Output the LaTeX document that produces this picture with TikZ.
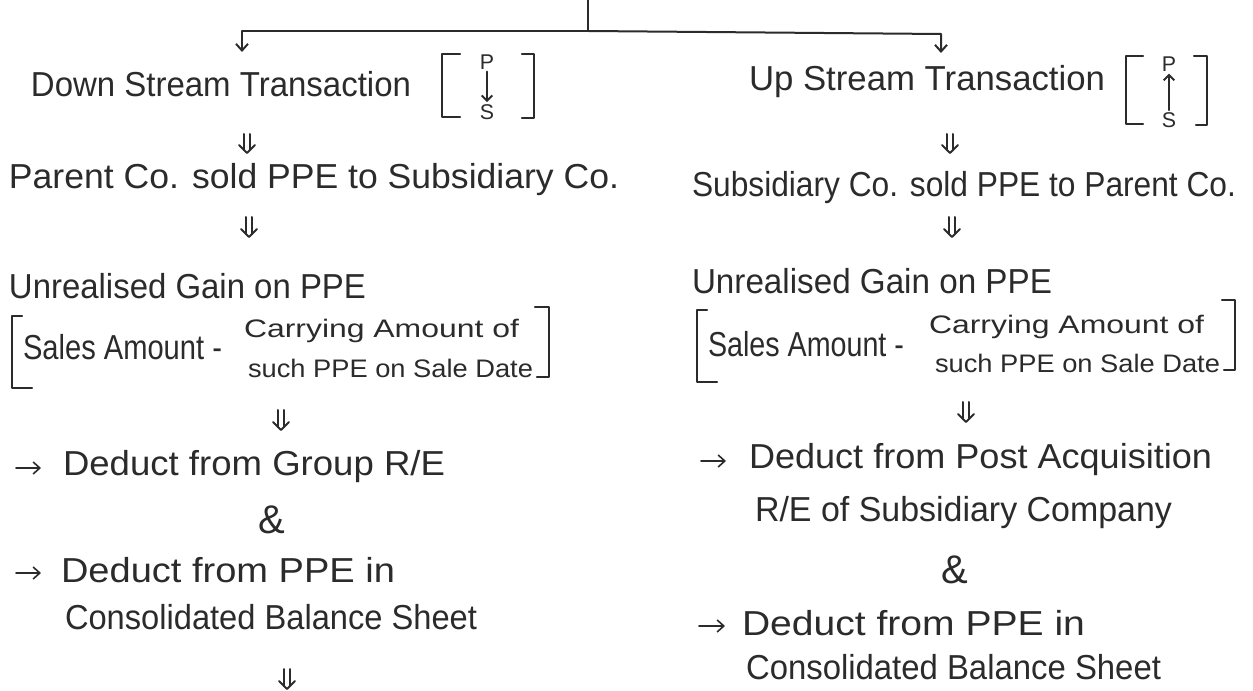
\documentclass[tikz,border=0pt]{standalone}
\usepackage{fontspec}
\setmainfont{Liberation Sans}
\usepackage{graphicx}
\usetikzlibrary{arrows.meta,calc}
\newdimen\px \px=0.75pt
\newcommand{\fitw}[2]{\resizebox{#1\px}{\height}{#2}}
\newcommand{\dnarrow}[2]{%
  \draw ($(#1)+(-3,0)$) -- ($(#2)+(-3,-3)$);
  \draw ($(#1)+(3,0)$) -- ($(#2)+(3,-3)$);
  \draw ($(#2)+(-8,-8)$) -- (#2) -- ($(#2)+(8,-8)$);}
\definecolor{ink}{HTML}{2B2B2B}
\begin{document}
\begin{tikzpicture}[x=0.75pt,y=-0.75pt,
  line width=1.5pt, draw=ink, line cap=round, line join=round,
  txt/.style={inner sep=0pt, anchor=west, text=ink, font=\fontsize{26}{30}\selectfont},
  midtxt/.style={txt, font=\fontsize{19}{22}\selectfont},
  smalltxt/.style={inner sep=0pt, text=ink, font=\fontsize{16}{18}\selectfont},
  arr/.style={-{Straight Barb[length=5pt,width=9pt]}},
  sarr/.style={-{Straight Barb[length=4pt,width=8pt]}, line width=1.4pt, shorten >=1pt, shorten <=1pt},
  brk/.style={line width=1.6pt}]
\useasboundingbox (0,0) rectangle (1253,691);

% top connector
\coordinate (top) at (588,0);
\coordinate (j) at (588,31);
\coordinate (cl) at (242,31);
\coordinate (cr) at (941,34);
\coordinate (al) at (242,52);
\coordinate (ar) at (941,53);
\draw (top) -- (j);
\draw[arr] (j) -- (cl) -- (al);
\draw[arr] (j) -- (cr) -- (ar);

% ---------------- left column ----------------
\node[txt] (ds) at (30,84) {\fitw{380}{Down Stream Transaction}};
\node[smalltxt] (dP) at (487,62) {P};
\node[smalltxt] (dS) at (487,112) {S};
\draw[sarr] (dP) -- (dS);
\draw[brk] (460,54) -- (442,54) -- (442,117) -- (460,117);
\draw[brk] (522,54) -- (534,54) -- (534,118) -- (522,118);

\coordinate (l1a) at (247,134); \coordinate (l1b) at (247,153);
\dnarrow{l1a}{l1b}
\node[txt] (pc) at (8,180) {\fitw{610}{Parent Co. sold PPE to Subsidiary Co.}};
\coordinate (l2a) at (249,217); \coordinate (l2b) at (249,237);
\dnarrow{l2a}{l2b}

\node[txt] (ug) at (8,286) {\fitw{357}{Unrealised Gain on PPE}};
\draw[brk] (22,316) -- (12,316) -- (12,388) -- (32,388);
\node[txt] (sa) at (22,347) {\fitw{199}{Sales Amount -}};
\node[midtxt] (ca) at (243,331) {\fitw{275}{Carrying Amount of}};
\node[midtxt] (sp) at (247,368) {\fitw{285}{such PPE on Sale Date}};
\draw[brk] (535,307) -- (549,307) -- (549,377) -- (537,377);

\coordinate (l3a) at (281,410); \coordinate (l3b) at (281,430);
\dnarrow{l3a}{l3b}
\coordinate (lr1a) at (16,468); \coordinate (lr1b) at (41,468);
\draw[arr, line width=1.2pt] (lr1a) -- (lr1b);
\node[txt] (dg) at (62,467) {\fitw{382}{Deduct from Group R/E}};
\node[txt, anchor=center, font=\fontsize{30}{32}\selectfont] (amp) at (272,520) {\&};
\coordinate (lr2a) at (16,573); \coordinate (lr2b) at (41,573);
\draw[arr, line width=1.2pt] (lr2a) -- (lr2b);
\node[txt] (dp) at (60,570) {\fitw{334}{Deduct from PPE in}};
\node[txt] (cb) at (64,617) {\fitw{412}{Consolidated Balance Sheet}};
\coordinate (l4a) at (287,669); \coordinate (l4b) at (287,689);
\dnarrow{l4a}{l4b}

% ---------------- right column ----------------
\node[txt] (us) at (748,82) {\fitw{356}{Up Stream Transaction}};
\node[smalltxt] (uP) at (1169,64) {P};
\node[smalltxt] (uS) at (1169,120) {S};
\draw[sarr] (uS) -- (uP);
\draw[brk] (1143,56) -- (1126,56) -- (1126,124) -- (1143,124);
\draw[brk] (1194,56) -- (1207,56) -- (1207,125) -- (1196,125);

\coordinate (r1a) at (950,134); \coordinate (r1b) at (950,153);
\dnarrow{r1a}{r1b}
\node[txt] (sc) at (691,188) {\fitw{544}{Subsidiary Co. sold PPE to Parent Co.}};
\coordinate (r2a) at (952,217); \coordinate (r2b) at (952,237);
\dnarrow{r2a}{r2b}

\node[txt] (ug2) at (691,281) {\fitw{360}{Unrealised Gain on PPE}};
\draw[brk] (707,310) -- (697,310) -- (697,382) -- (717,382);
\node[txt] (sa2) at (707,344) {\fitw{196}{Sales Amount -}};
\node[midtxt] (ca2) at (928,327) {\fitw{275}{Carrying Amount of}};
\node[midtxt] (sp2) at (934,363) {\fitw{285}{such PPE on Sale Date}};
\draw[brk] (1222,300) -- (1235,300) -- (1235,370) -- (1224,370);

\coordinate (r3a) at (966,402); \coordinate (r3b) at (966,422);
\dnarrow{r3a}{r3b}
\coordinate (rr1a) at (701,461); \coordinate (rr1b) at (726,461);
\draw[arr, line width=1.2pt] (rr1a) -- (rr1b);
\node[txt] (pa) at (748,460) {\fitw{463}{Deduct from Post Acquisition}};
\node[txt] (re) at (754,513) {\fitw{417}{R/E of Subsidiary Company}};
\node[txt, anchor=center, font=\fontsize{30}{32}\selectfont] (amp2) at (955,570) {\&};
\coordinate (rr2a) at (699,626); \coordinate (rr2b) at (725,626);
\draw[arr, line width=1.2pt] (rr2a) -- (rr2b);
\node[txt] (dp2) at (741,623) {\fitw{343}{Deduct from PPE in}};
\node[txt] (cb2) at (745,667) {\fitw{415}{Consolidated Balance Sheet}};
\end{tikzpicture}
\end{document}
